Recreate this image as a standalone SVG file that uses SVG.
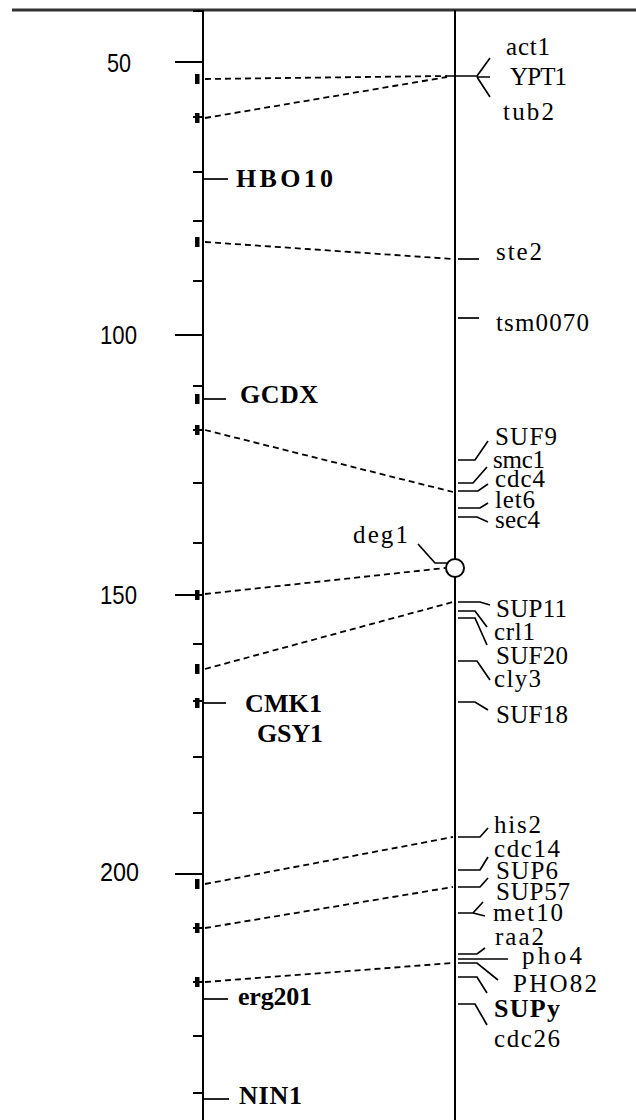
<svg xmlns="http://www.w3.org/2000/svg" width="636" height="1120" viewBox="0 0 636 1120">
<style>
.ax{stroke:#000;stroke-width:2;fill:none}
.tk{stroke:#000;stroke-width:2;fill:none}
.ln{stroke:#000;stroke-width:1.7;fill:none}
.ds{stroke:#000;stroke-width:1.8;fill:none;stroke-dasharray:6 4}
.mk{fill:#000}
.lb{font-family:"Liberation Serif","Times New Roman",serif;font-size:25px;fill:#000}
.bd{font-family:"Liberation Serif","Times New Roman",serif;font-size:26px;font-weight:bold;fill:#000}
.nm{font-family:"Liberation Sans",Arial,sans-serif;font-size:26px;fill:#000}
</style>
<rect width="636" height="1120" fill="#fff"/>
<line x1="12" y1="10" x2="636" y2="10" stroke="#333" stroke-width="3"/>
<g id="axes">
<line class="ax" x1="203" y1="10" x2="203" y2="1120"/>
<line class="ax" x1="455" y1="10" x2="455" y2="1120"/>
</g>
<g id="scale">
<path class="tk" d="M175 62H203M175 335H203M175 595H203M175 874H203"/>
<path class="tk" d="M193 11H203M193 117H203M193 172H203M193 221H203M193 281H203M193 386H203M193 430H203M193 483H203M193 543H203M193 644H203M193 701H203M193 757H203M193 813H203M193 928H203M193 982H203M193 1036H203M193 1093H203"/>
<text class="nm" x="107" y="72" textLength="24" lengthAdjust="spacingAndGlyphs">50</text>
<text class="nm" x="100" y="344" textLength="37" lengthAdjust="spacingAndGlyphs">100</text>
<text class="nm" x="100" y="604" textLength="37" lengthAdjust="spacingAndGlyphs">150</text>
<text class="nm" x="100" y="881" textLength="39" lengthAdjust="spacingAndGlyphs">200</text>
</g>
<g id="markers">
<rect class="mk" x="195" y="74" width="4.5" height="10"/>
<rect class="mk" x="195" y="113" width="4.5" height="10"/>
<rect class="mk" x="195" y="237" width="4.5" height="10"/>
<rect class="mk" x="195" y="394" width="4.5" height="10"/>
<rect class="mk" x="195" y="425" width="4.5" height="10"/>
<rect class="mk" x="195" y="590" width="4.5" height="10"/>
<rect class="mk" x="195" y="664" width="4.5" height="10"/>
<rect class="mk" x="195" y="698" width="4.5" height="10"/>
<rect class="mk" x="195" y="879" width="4.5" height="10"/>
<rect class="mk" x="195" y="923" width="4.5" height="10"/>
<rect class="mk" x="195" y="977" width="4.5" height="10"/>
</g>
<g id="connectors">
<line class="ds" x1="205" y1="79" x2="447" y2="76"/>
<line class="ds" x1="205" y1="118" x2="447" y2="77"/>
<line class="ds" x1="205" y1="242" x2="453" y2="259"/>
<line class="ds" x1="205" y1="430" x2="453" y2="492"/>
<line class="ds" x1="205" y1="594" x2="445" y2="568"/>
<line class="ds" x1="205" y1="669" x2="453" y2="602"/>
<line class="ds" x1="205" y1="884" x2="453" y2="837"/>
<line class="ds" x1="205" y1="928" x2="453" y2="887"/>
<line class="ds" x1="205" y1="982" x2="453" y2="963"/>
</g>
<g id="HBO10"><line class="ln" x1="203" y1="179" x2="228" y2="179"/><text class="bd" x="236" y="187" textLength="97">HBO10</text></g>
<g id="GCDX"><line class="ln" x1="203" y1="399" x2="226" y2="399"/><text class="bd" x="240" y="403" textLength="78">GCDX</text></g>
<g id="CMK1"><line class="ln" x1="203" y1="703" x2="226" y2="703"/><text class="bd" x="245" y="712" textLength="77">CMK1</text></g>
<g id="GSY1"><text class="bd" x="257" y="742" textLength="66">GSY1</text></g>
<g id="erg201"><line class="ln" x1="203" y1="999" x2="228" y2="999"/><text class="bd" x="238" y="1005" textLength="74">erg201</text></g>
<g id="NIN1"><line class="ln" x1="203" y1="1099" x2="229" y2="1099"/><text class="bd" x="239" y="1104" textLength="63">NIN1</text></g>
<g id="YPT1-group">
<path class="ln" d="M447 76H477M477 76L490 58M477 77H490M477 77L490 97"/>
<text class="lb" x="506" y="55" textLength="44">act1</text>
<text class="lb" x="510" y="85" textLength="57">YPT1</text>
<text class="lb" x="503" y="120" textLength="51">tub2</text>
</g>
<g id="ste2"><path class="ln" d="M458 259H479"/><text class="lb" x="496" y="260" textLength="46">ste2</text></g>
<g id="tsm0070"><path class="ln" d="M458 318H479"/><text class="lb" x="496" y="331" textLength="93">tsm0070</text></g>
<g id="SUF9"><path class="ln" d="M458 460H475L488 441"/><text class="lb" x="495" y="445" textLength="62">SUF9</text></g>
<g id="smc1"><path class="ln" d="M458 483H473L487 467"/><text class="lb" x="493" y="468" textLength="52">smc1</text></g>
<g id="cdc4"><path class="ln" d="M458 491H478L488 484"/><text class="lb" x="495" y="487" textLength="50">cdc4</text></g>
<g id="let6"><path class="ln" d="M458 508H480L488 503"/><text class="lb" x="495" y="508" textLength="40">let6</text></g>
<g id="sec4"><path class="ln" d="M458 517H477L488 522"/><text class="lb" x="495" y="528" textLength="45">sec4</text></g>
<g id="deg1"><path class="ln" d="M418 544L435 563H447"/><circle cx="455" cy="568" r="9" fill="#fff" stroke="#000" stroke-width="2"/><text class="lb" x="353" y="543" textLength="55">deg1</text></g>
<g id="SUP11"><path class="ln" d="M458 602H480L490 605"/><text class="lb" x="496" y="617" textLength="71">SUP11</text></g>
<g id="crl1"><path class="ln" d="M458 611H475L487 627"/><text class="lb" x="494" y="640" textLength="41">crl1</text></g>
<g id="SUF20"><path class="ln" d="M458 618H475L487 645"/><text class="lb" x="496" y="664" textLength="72">SUF20</text></g>
<g id="cly3"><path class="ln" d="M458 661H477L490 680"/><text class="lb" x="494" y="687" textLength="47">cly3</text></g>
<g id="SUF18"><path class="ln" d="M458 702H475L488 710"/><text class="lb" x="496" y="723" textLength="72">SUF18</text></g>
<g id="his2"><path class="ln" d="M458 837H480L488 828"/><text class="lb" x="494" y="833" textLength="47">his2</text></g>
<g id="cdc14"><path class="ln" d="M458 870H480L488 857"/><text class="lb" x="494" y="857" textLength="66">cdc14</text></g>
<g id="SUP6"><path class="ln" d="M458 887H480L488 878"/><text class="lb" x="496" y="879" textLength="62">SUP6</text></g>
<g id="SUP57-met10"><path class="ln" d="M458 913H473L483 902M473 913L485 916"/><text class="lb" x="496" y="900" textLength="74">SUP57</text><text class="lb" x="493" y="921" textLength="70">met10</text></g>
<g id="raa2"><path class="ln" d="M458 954H477L485 948"/><text class="lb" x="495" y="945" textLength="49">raa2</text></g>
<g id="pho4"><path class="ln" d="M458 959H508"/><text class="lb" x="522" y="964" textLength="60">pho4</text></g>
<g id="PHO82"><path class="ln" d="M458 963H477L498 980"/><text class="lb" x="513" y="992" textLength="84">PHO82</text></g>
<g id="SUPy"><path class="ln" d="M458 977H477L487 993"/><text class="bd" x="494" y="1017" textLength="66">SUPy</text></g>
<g id="cdc26"><path class="ln" d="M458 1004H475L487 1025"/><text class="lb" x="494" y="1047" textLength="66">cdc26</text></g>
</svg>
